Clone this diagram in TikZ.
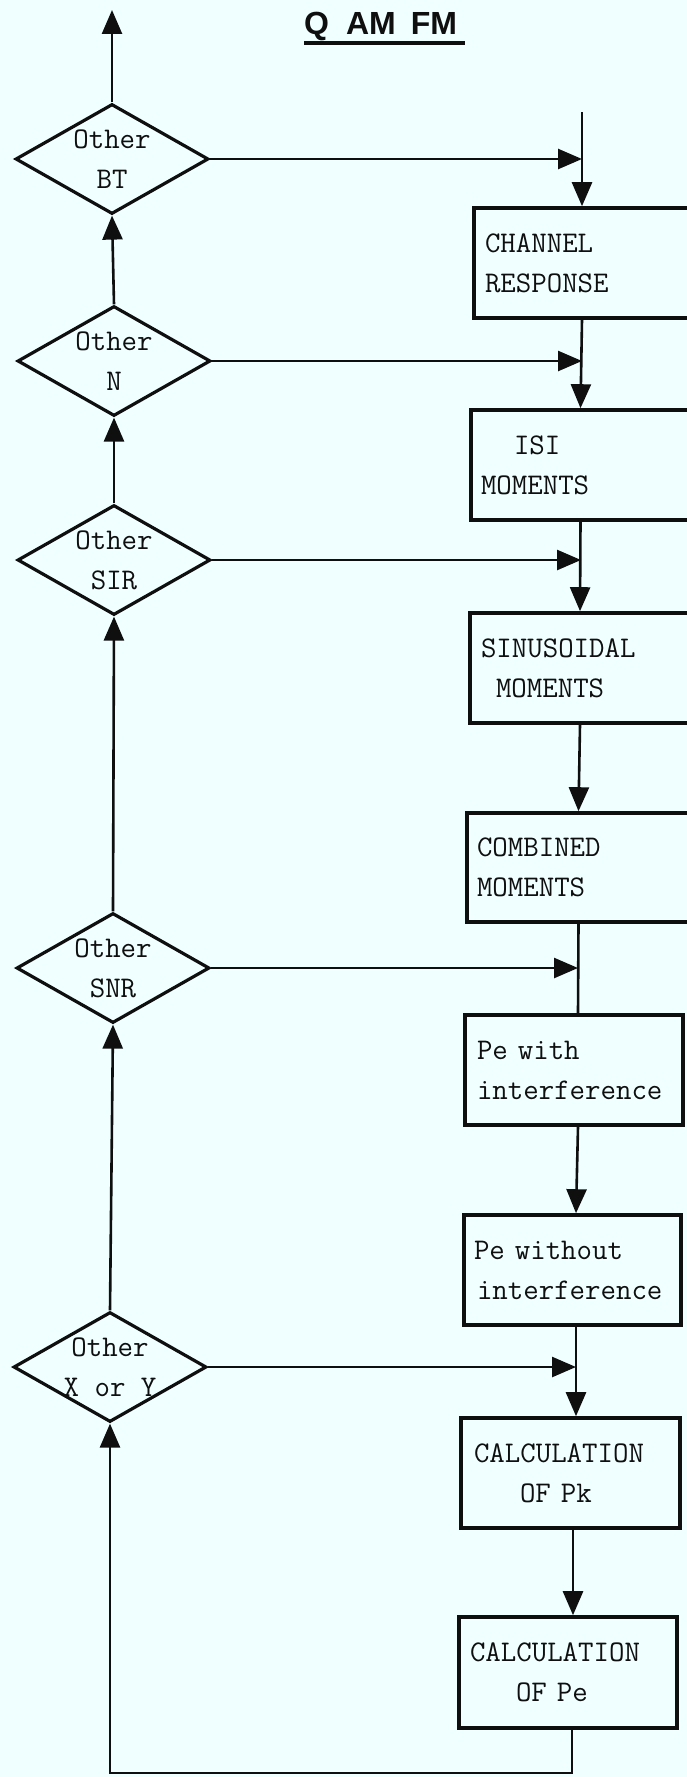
\documentclass[tikz,border=0pt]{standalone}
\usepackage{fontspec}
\newfontfamily\titlefont{Liberation Sans}
\usetikzlibrary{arrows.meta,shapes.geometric}
\definecolor{paper}{RGB}{240,255,255}
\definecolor{ink}{RGB}{15,15,15}
% typewriter lettering used in all boxes and decisions
\newcommand\tyfont{\fontsize{30}{40}\selectfont\ttfamily}
% two centred lines that do not widen the decision diamond
\newcommand\dtext[1]{\makebox[0pt]{\smash{\raisebox{-8pt}{\begin{tabular}{@{}c@{}}#1\end{tabular}}}}}
\begin{document}
\begin{tikzpicture}[x=1pt,y=-1pt,
  conn/.style={draw=ink,line width=2.6pt},
  arr/.style={conn,-{Triangle[length=24pt,width=20pt]}},
  decide/.style={diamond,draw=ink,line width=3.2pt,inner sep=0pt,
    minimum width=193pt,minimum height=110pt,font=\tyfont,text=ink},
  stage/.style={rectangle,draw=ink,line width=3.6pt,inner xsep=10pt,
    inner ysep=0pt,align=left,minimum height=110pt,font=\tyfont,text=ink}]
\useasboundingbox (0,0) rectangle (687,1777);
\fill[paper] (0,0) rectangle (687,1777);

% title
\node[font=\titlefont\bfseries\fontsize{32}{32}\selectfont,text=ink,
  inner sep=0pt,anchor=base west] (title) at (304,35)
  {Q\hspace{17pt}AM\hspace{15pt}FM};
\draw[ink,line width=3.2pt] ([yshift=-8pt]title.base west)
  -- ([yshift=-8pt,xshift=8pt]title.base east);

% decisions on the left
\node[decide] (bt)  at (112,159)  {\dtext{Other\\BT}};
\node[decide] (n)   at (114,361)  {\dtext{Other\\N}};
\node[decide] (sir) at (114,560)  {\dtext{Other\\SIR}};
\node[decide] (snr) at (113,968)  {\dtext{Other\\SNR}};
\node[decide] (xy)  at (110,1367) {\dtext{Other\\X or Y}};

% processing stages on the right
\node[stage,text width=196pt] (ch)   at (582,263)    {\hspace*{1pt}CHANNEL\\\hspace*{1pt}RESPONSE};
\node[stage,text width=199pt] (isi)  at (580.5,465)  {\hspace*{33pt}ISI\\\hspace*{0pt}MOMENTS};
\node[stage,text width=200pt] (sin)  at (580,668)    {\hspace*{1pt}SINUSOIDAL\\\hspace*{16pt}MOMENTS};
\node[stage,text width=203pt,minimum height=109pt] (comb) at (578.5,867.5) {COMBINED\\MOMENTS};
\node[stage,text width=198pt] (pew)  at (574,1070)   {\hspace*{2pt}Pe with\\\hspace*{2pt}interference};
\node[stage,text width=197pt] (pewo) at (572.5,1270) {\hspace*{0pt}Pe without\\\hspace*{3pt}interference};
\node[stage,text width=199pt] (cpk)  at (570.5,1473) {\hspace*{3pt}CALCULATION\\\hspace*{49pt}OF Pk};
\node[stage,text width=198pt,minimum height=111pt] (cpe) at (568,1672.5) {\hspace*{1pt}CALCULATION\\\hspace*{47pt}OF Pe};

% junctions on the main line and free ends
\coordinate (up)   at (112,10);
\coordinate (feed) at (582,112);
\coordinate (j1) at (582,159);
\coordinate (j2) at (582,361);
\coordinate (j3) at (581,560);
\coordinate (j4) at (578,968);
\coordinate (j5) at (576,1367);
\coordinate (floor) at (0,1773);
\coordinate (exit) at ([xshift=4pt]cpe.south);

% upward chain of decisions
\draw[arr] (bt.north) -- (up);
\draw[arr] (n.north) -- (bt.south);
\draw[arr] (sir.north) -- (n.south);
\draw[arr] (snr.north) -- (sir.south);
\draw[arr] (xy.north) -- (snr.south);

% re-entry into the main line
\draw[arr] (bt.east) -- (j1);
\draw[arr] (n.east) -- (j2);
\draw[arr] (sir.east) -- (j3);
\draw[arr] (snr.east) -- (j4);
\draw[arr] (xy.east) -- (j5);

% main processing line
\draw[arr] (feed) -- (ch.north);
\draw[arr] (ch.south) -- (isi.north);
\draw[arr] (isi.south) -- (sin.north);
\draw[arr] (sin.south) -- (comb.north);
\draw[conn] (comb.south) -- ([xshift=4pt]pew.north);
\draw[arr] ([xshift=4pt]pew.south) -- ([xshift=3.5pt]pewo.north);
\draw[arr] ([xshift=3.5pt]pewo.south) -- ([xshift=5.5pt]cpk.north);
\draw[arr] ([xshift=2.5pt]cpk.south) -- ([xshift=5pt]cpe.north);

% loop back to the first decision
\draw[arr] (exit) -- (exit |- floor) -| (xy.south);
\end{tikzpicture}
\end{document}
